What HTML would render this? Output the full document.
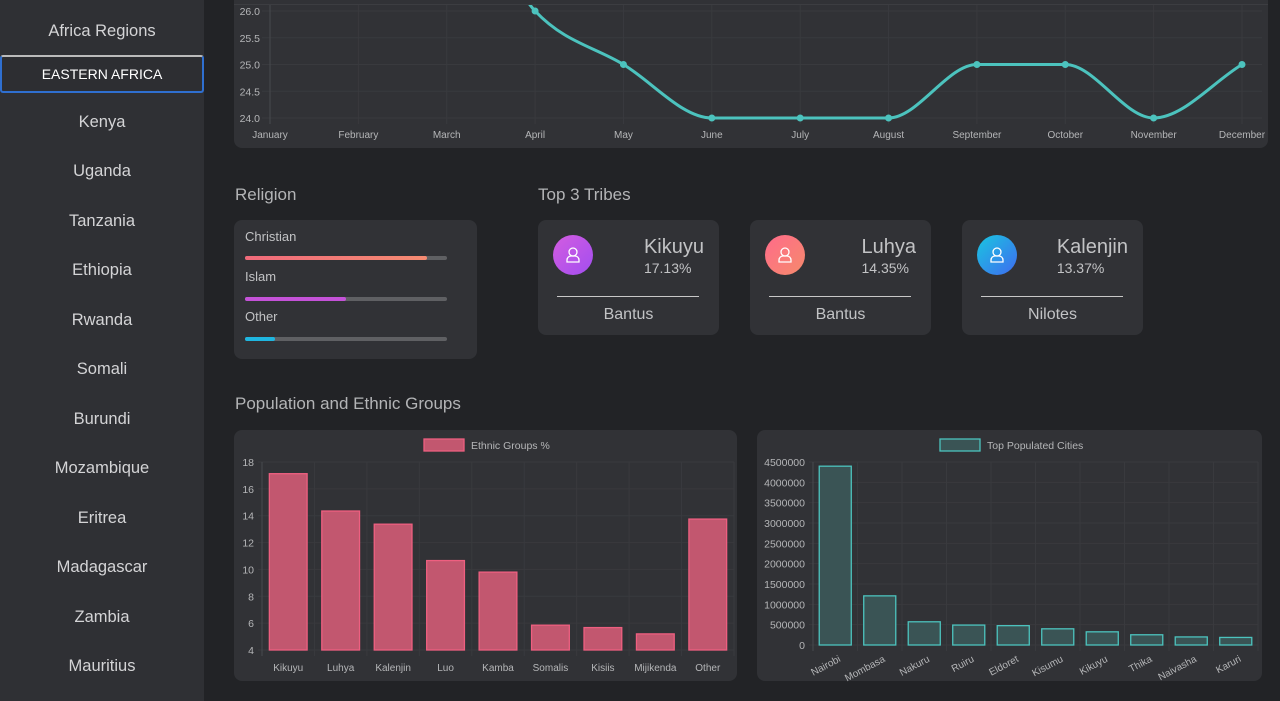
<!DOCTYPE html>
<html><head><meta charset="utf-8">
<style>
*{box-sizing:border-box;margin:0;padding:0}
body{width:1280px;height:701px;overflow:hidden;background:#222326;font-family:"Liberation Sans",sans-serif;color:#c2c3c5;position:relative}
.side{position:absolute;left:0;top:0;width:204px;height:701px;background:#2f3034}
.side div{position:absolute;left:0;width:204px;text-align:center;font-size:16.5px;color:#d4d4d6;font-weight:300}
.side .act{left:0;width:204px;height:38px;border:2px solid #2f6fd0;border-top-color:#bbb;border-radius:3px;background:#2d2e32;font-size:14px;color:#fff;line-height:34px}
.card{position:absolute;background:#313236;border-radius:8px}
.h{position:absolute;font-size:17px;color:#b3b4b6;font-weight:300}
svg text{font-family:"Liberation Sans",sans-serif}
</style></head><body>
<div class="side">
<div style="top:22px">Africa Regions</div>
<div class="act" style="top:55px">EASTERN AFRICA</div>
<div style="top:113px">Kenya</div>
<div style="top:162px">Uganda</div>
<div style="top:212px">Tanzania</div>
<div style="top:261px">Ethiopia</div>
<div style="top:311px">Rwanda</div>
<div style="top:360px">Somali</div>
<div style="top:410px">Burundi</div>
<div style="top:459px">Mozambique</div>
<div style="top:509px">Eritrea</div>
<div style="top:558px">Madagascar</div>
<div style="top:608px">Zambia</div>
<div style="top:657px">Mauritius</div>
</div>

<div class="card" style="left:234px;top:-10px;width:1034px;height:158px"></div>
<svg id="line" style="position:absolute;left:0;top:0" width="1280" height="150"></svg>
<div style="position:absolute;left:234px;top:4px;width:1034px;height:1px;background:#3c3d41"></div>

<div class="h" style="left:235px;top:185px">Religion</div>
<div class="h" style="left:538px;top:185px">Top 3 Tribes</div>
<div class="card" style="left:234px;top:220px;width:243px;height:139px">
 <div style="position:absolute;left:11px;top:9px;font-size:13px">Christian</div>
 <div style="position:absolute;left:11px;top:36px;width:202px;height:4px;background:#5f6063;border-radius:2px"><div style="width:90%;height:4px;background:linear-gradient(90deg,#f06a7a,#f58b72);border-radius:2px"></div></div>
 <div style="position:absolute;left:11px;top:49px;font-size:13px">Islam</div>
 <div style="position:absolute;left:11px;top:77px;width:202px;height:4px;background:#5f6063;border-radius:2px"><div style="width:50%;height:4px;background:#c452d8;border-radius:2px"></div></div>
 <div style="position:absolute;left:11px;top:89px;font-size:13px">Other</div>
 <div style="position:absolute;left:11px;top:117px;width:202px;height:4px;background:#5f6063;border-radius:2px"><div style="width:15%;height:4px;background:#1fb6e0;border-radius:2px"></div></div>
</div>
<div id="tribes"></div>

<div class="h" style="left:235px;top:394px">Population and Ethnic Groups</div>
<div class="card" style="left:234px;top:430px;width:503px;height:251px"></div>
<div class="card" style="left:757px;top:430px;width:505px;height:251px"></div>
<svg id="bars" style="position:absolute;left:0;top:0" width="1280" height="701"></svg>

<script>
const months=["January","February","March","April","May","June","July","August","September","October","November","December"];
const temps=[28.5,28.5,28.5,26,25,24,24,24,25,25,24,25];
const tempTicks=[24.0,24.5,25.0,25.5,26.0];
const ethnicLabels=["Kikuyu","Luhya","Kalenjin","Luo","Kamba","Somalis","Kisiis","Mijikenda","Other"];
const ethnicValues=[17.13,14.35,13.37,10.66,9.8,5.85,5.67,5.2,13.75];
const ethnicTicks=[4,6,8,10,12,14,16,18];
const cityLabels=["Nairobi","Mombasa","Nakuru","Ruiru","Eldoret","Kisumu","Kikuyu","Thika","Naivasha","Karuri"];
const cityValues=[4397073,1208333,570674,490120,475716,397957,323881,251407,198444,186000];
const cityTicks=[0,500000,1000000,1500000,2000000,2500000,3000000,3500000,4000000,4500000];
const tribeNames=["Kikuyu","Luhya","Kalenjin"];
const tribePct=["17.13%","14.35%","13.37%"];
const tribeGroups=["Bantus","Bantus","Nilotes"];

const NS="http://www.w3.org/2000/svg";
function mk(p,t,a,txt){const e=document.createElementNS(NS,t);for(const k in a)e.setAttribute(k,a[k]);if(txt!==undefined)e.textContent=txt;p.appendChild(e);return e;}

// line chart
const L=document.getElementById('line');
const lx=i=>270+i*(1242-270)/11, ly=v=>118-(v-24)*53.5;
const clip=mk(L,'clipPath',{id:'lc'});mk(clip,'rect',{x:234,y:5,width:1034,height:145});
tempTicks.forEach(t=>{mk(L,'line',{x1:262,x2:1262,y1:ly(t),y2:ly(t),stroke:'#393a3e'});
 const tx=mk(L,'text',{x:260,y:ly(t)+4,'text-anchor':'end','font-size':10.5,fill:'#b5b6b8'},t.toFixed(1));});
months.forEach((m,i)=>{mk(L,'line',{x1:lx(i),x2:lx(i),y1:5,y2:124,stroke:i==0?'#48494d':'#393a3e'});
 const tx=mk(L,'text',{x:lx(i),y:138,'text-anchor':'middle','font-size':10,fill:'#b5b6b8'},m);});
const g=mk(L,'g',{'clip-path':'url(#lc)'});
// monotone cubic
const P=temps.map((v,i)=>[lx(i),ly(v)]);const n=P.length,h=P[1][0]-P[0][0];
const dl=[];for(let i=0;i<n-1;i++)dl.push((P[i+1][1]-P[i][1])/h);
const m=[];for(let i=0;i<n;i++){if(i==0)m.push(dl[0]);else if(i==n-1)m.push(dl[n-2]);else m.push(dl[i-1]*dl[i]<=0?0:(dl[i-1]+dl[i])/2);}
for(let i=0;i<n-1;i++){if(dl[i]==0){m[i]=0;m[i+1]=0;continue;}const a=m[i]/dl[i],b=m[i+1]/dl[i],s=a*a+b*b;if(s>9){const t=3/Math.sqrt(s);m[i]=t*a*dl[i];m[i+1]=t*b*dl[i];}}
let d='M'+P[0][0]+','+P[0][1];
for(let i=0;i<n-1;i++){d+=`C${P[i][0]+h/3},${P[i][1]+m[i]*h/3} ${P[i+1][0]-h/3},${P[i+1][1]-m[i+1]*h/3} ${P[i+1][0]},${P[i+1][1]}`;}
const pl=mk(g,'path',{d:d,fill:'none',stroke:'#4cc3be','stroke-width':3,'stroke-linejoin':'round'});

temps.forEach((v,i)=>{const c=mk(g,'circle',{cx:lx(i),cy:ly(v),r:3.5,fill:'#4cc3be'});});

// tribes
const T=document.getElementById('tribes');
const grads=["linear-gradient(135deg,#d35ce0,#a24ef0)","linear-gradient(135deg,#ff6b8a,#f58a6c)","linear-gradient(135deg,#19c6e0,#3f6bf0)"];
tribeNames.forEach((nm,i)=>{const c=document.createElement('div');c.className='card';
 c.style.cssText=`left:${538+i*212}px;top:220px;width:181px;height:115px`;
 
 
 c.innerHTML=`<div style="position:absolute;left:15px;top:15px;width:40px;height:40px;border-radius:50%;background:${grads[i]}"><svg width="40" height="40"><circle cx="20" cy="17" r="4" fill="none" stroke="#fff" stroke-width="1.3"/><path d="M14 27v-2a4 4 0 0 1 4-4h4a4 4 0 0 1 4 4v2z" fill="none" stroke="#fff" stroke-width="1.3"/></svg></div>
 <div style="position:absolute;right:15px;top:16px;font-size:20px;font-weight:300;color:#c2c3c5;text-align:left">${nm}<div style="font-size:14px;margin-top:1px">${tribePct[i]}</div></div>
 <div style="position:absolute;left:19px;top:76px;width:142px;height:1px;background:#c8c8c8"></div>
 <div style="position:absolute;left:0;width:181px;top:86px;text-align:center;font-size:16px;font-weight:300">${tribeGroups[i]}</div>`;
 T.appendChild(c);});

// bar charts
const B=document.getElementById('bars');
function barChart(o){
 const n=o.labels.length,w=(o.x1-o.x0)/n;
 const y=v=>o.yb-(v-o.min)/(o.max-o.min)*(o.yb-o.yt);
 o.ticks.forEach(t=>{mk(B,'line',{x1:o.x0-4,x2:o.x1,y1:y(t),y2:y(t),stroke:'#393a3e'});
  const tx=mk(B,'text',{x:o.x0-8,y:y(t)+4,'text-anchor':'end','font-size':10.5,fill:'#b5b6b8'},t);});
 for(let i=0;i<=n;i++)mk(B,'line',{x1:o.x0+i*w,x2:o.x0+i*w,y1:o.yt,y2:o.yb+6,stroke:i==0?'#48494d':'#393a3e'});
 o.values.forEach((v,i)=>{const cx=o.x0+(i+.5)*w,bw=w*.72;
  const r=mk(B,'rect',{x:cx-bw/2,y:y(v),width:bw,height:o.yb-y(v),fill:o.fill,stroke:o.stroke,'stroke-width':1.3});
  
  const tx=o.rot?mk(B,'text',{x:cx+6,y:o.yb+16,'text-anchor':'end','font-size':10,fill:'#b5b6b8',transform:`rotate(-28 ${cx+6} ${o.yb+16})`},o.labels[i])
   :mk(B,'text',{x:cx,y:o.yb+21,'text-anchor':'middle','font-size':10,fill:'#b5b6b8'},o.labels[i]);
  });
 const lg=mk(B,'rect',{x:o.lx,y:439,width:40,height:12,fill:o.fill,stroke:o.stroke,'stroke-width':1.3});
 
 const lt=mk(B,'text',{x:o.lx+47,y:449,'font-size':10.5,fill:'#b5b6b8'},o.title);
 
}
barChart({labels:ethnicLabels,values:ethnicValues,ticks:ethnicTicks,min:4,max:18,x0:262,x1:734,yt:462,yb:650,fill:'#c2576f',stroke:'#ee5f80',lx:424,title:'Ethnic Groups %'});
barChart({labels:cityLabels,values:cityValues,ticks:cityTicks,min:0,max:4500000,x0:813,x1:1258,yt:462,yb:645,fill:'#3a5455',stroke:'#4cc3be',lx:940,title:'Top Populated Cities',rot:true});
</script>
</body></html>
